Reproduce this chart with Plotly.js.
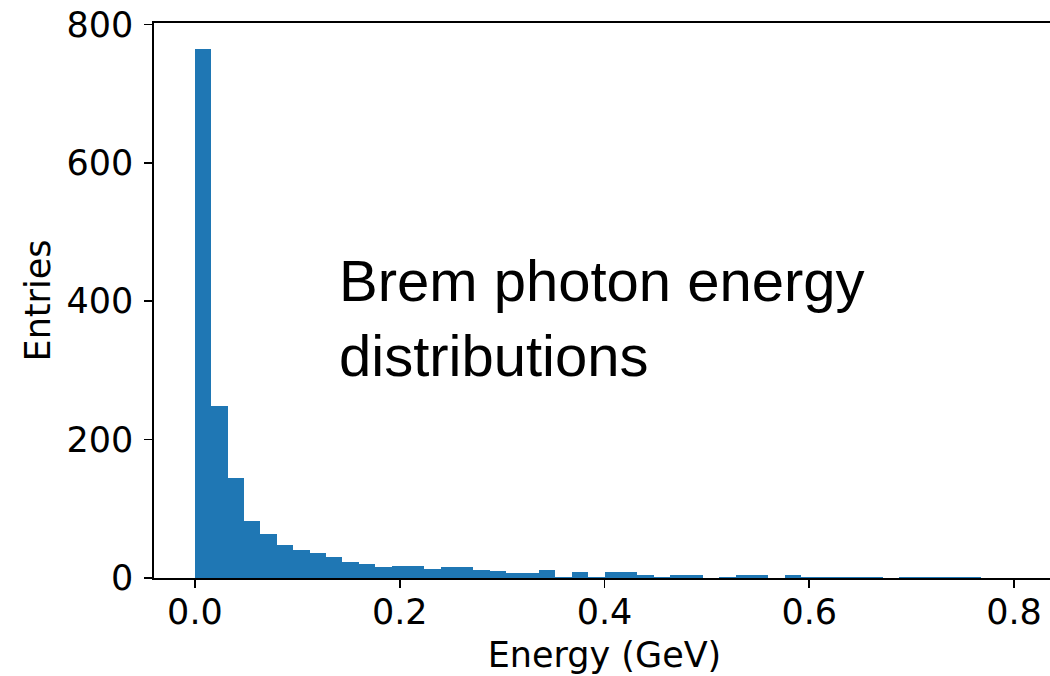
<!DOCTYPE html>
<html>
<head>
<meta charset="utf-8">
<script src="https://cdn.plot.ly/plotly-3.0.1.min.js"></script>
<style>
  html, body { margin: 0; padding: 0; overflow: hidden; background: #fff; }
  #chart { width: 1060px; height: 676px; }
</style>
</head>
<body>
<div id="chart"></div>
<script>
// Histogram binning (50 bins over 0 .. 0.8 GeV)
const binLow = 0.0;
const binHigh = 0.8;
const nBins = 50;

// Entries per bin
const counts = [
  765, 248, 144, 82, 64, 48, 41, 36, 30, 23,
  20, 16, 18, 18, 13, 16, 16, 12, 10, 7,
  7, 11, 2, 8, 2, 8, 8, 5, 2, 5,
  4, 0, 2, 5, 5, 0, 4, 2, 2, 2,
  2, 2, 0, 2, 2, 2, 2, 2, 0, 0
];

const xTickVals = [0.0, 0.2, 0.4, 0.6, 0.8];
const xTickText = ["0.0", "0.2", "0.4", "0.6", "0.8"];
const yTickVals = [0, 200, 400, 600, 800];
const yTickText = ["0", "200", "400", "600", "800"];

const xTitle = "Energy (GeV)";
const yTitle = "Entries";
const noteText = "Brem photon energy<br>distributions";

const binWidth = (binHigh - binLow) / nBins;
const centers = counts.map((_, i) => binLow + (i + 0.5) * binWidth);

const trace = {
  type: "bar",
  x: centers,
  y: counts,
  width: binWidth,
  marker: { color: "#1f77b4", line: { width: 0 } },
  hoverinfo: "x+y"
};

const tickFont = { family: "DejaVu Sans", size: 35, color: "#000" };

const layout = {
  width: 1060,
  height: 676,
  margin: { l: 154, r: 5, t: 23, b: 98 },
  paper_bgcolor: "#fff",
  plot_bgcolor: "#fff",
  bargap: 0,
  showlegend: false,
  xaxis: {
    range: [-0.04, 0.84],
    tickvals: xTickVals,
    ticktext: xTickText,
    ticks: "outside",
    ticklen: 8,
    tickwidth: 1.6,
    tickcolor: "#000",
    showline: true,
    linecolor: "#000",
    linewidth: 1.6,
    mirror: true,
    showgrid: false,
    zeroline: false,
    tickfont: tickFont,
    ticklabelstandoff: -6,
    title: { text: xTitle, font: { family: "DejaVu Sans", size: 35, color: "#000" }, standoff: 12 }
  },
  yaxis: {
    range: [0, 802],
    tickvals: yTickVals,
    ticktext: yTickText,
    ticks: "outside",
    ticklen: 8,
    tickwidth: 1.6,
    tickcolor: "#000",
    showline: true,
    linecolor: "#000",
    linewidth: 1.6,
    mirror: true,
    showgrid: false,
    zeroline: false,
    tickfont: tickFont,
    ticklabelstandoff: 4,
    title: { text: yTitle, font: { family: "DejaVu Sans", size: 35, color: "#000" }, standoff: 5 }
  },
  annotations: [{
    text: noteText,
    x: 0.139,
    y: 375,
    xref: "x",
    yref: "y",
    xanchor: "left",
    yanchor: "middle",
    align: "left",
    showarrow: false,
    font: { family: "Liberation Sans", size: 58, color: "#000" }
  }]
};

Plotly.newPlot("chart", [trace], layout, { displayModeBar: false, staticPlot: true });
</script>
</body>
</html>
